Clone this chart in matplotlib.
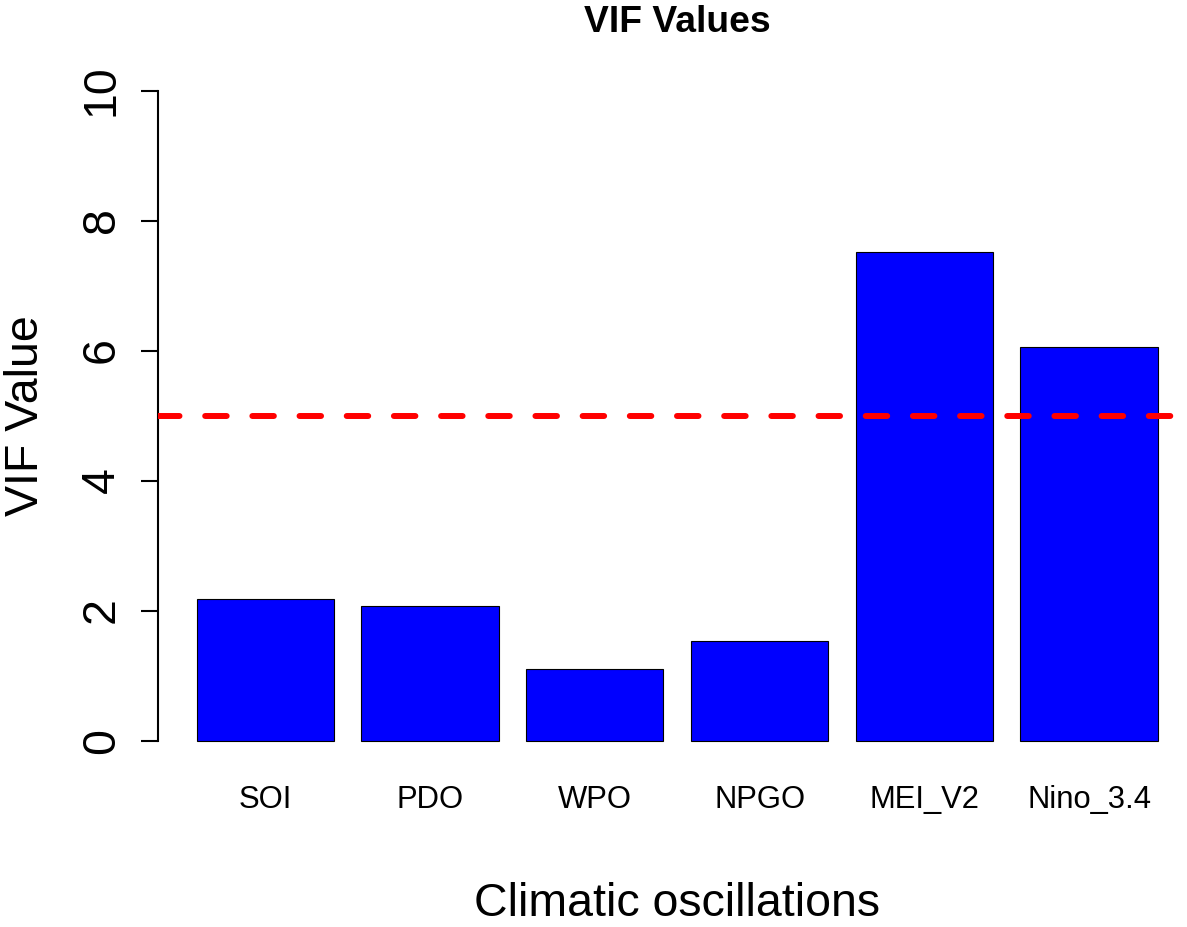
import matplotlib
matplotlib.use("Agg")
import matplotlib.pyplot as plt

categories = ["SOI", "PDO", "WPO", "NPGO", "MEI_V2", "Nino_3.4"]
vif_values = [2.17, 2.07, 1.10, 1.53, 7.52, 6.06]
threshold = 5.0
y_ticks = [0, 2, 4, 6, 8, 10]

plt.rcParams['font.family'] = ['Liberation Sans', 'DejaVu Sans']

W, H = 1187, 927
DPI = 100
fig = plt.figure(figsize=(W / DPI, H / DPI), dpi=DPI)
fig.patch.set_facecolor('white')

# plot region in pixels (R-like)
left_px, right_px = 158.2, 1196.2
top_px, bot_px = 64.5, 766.5
ax = fig.add_axes([left_px / W, 1 - bot_px / H, (right_px - left_px) / W, (bot_px - top_px) / H])
ax.set_facecolor('none')

width = 1.0
space = 0.2
positions = [space + i * (width + space) + width / 2 for i in range(len(categories))]
ax.bar(positions, vif_values, width=width, color='#0000FF', edgecolor='black', linewidth=0.8, zorder=2)

ax.axhline(threshold, color='#FF0000', linewidth=4.3, dashes=(3.6, 4.3), dash_capstyle='round', zorder=3)

ax.set_xlim(-0.08, 7.48)
ax.set_ylim(-0.4, 10.4)

for s in ['top', 'right', 'bottom']:
    ax.spines[s].set_visible(False)
ax.spines['left'].set_bounds(0, 10)
ax.spines['left'].set_linewidth(1.5)

ax.set_yticks(y_ticks)
ax.set_yticklabels([str(t) for t in y_ticks])
ax.tick_params(axis='y', length=12.5, width=1.5, pad=19.5, labelsize=33.5)
for lab in ax.get_yticklabels():
    lab.set_rotation(90)
    lab.set_rotation_mode('anchor')
    lab.set_ha('center')
    lab.set_va('baseline')

ax.set_xticks(positions)
ax.set_xticklabels(categories)
ax.tick_params(axis='x', length=0, pad=30, labelsize=22.3)
for lab in ax.get_xticklabels():
    lab.set_va('baseline')

cx = (left_px + right_px) / 2 / W
fig.text(cx, 1 - 31.5 / H, "VIF Values", fontsize=26.8, fontweight='bold', ha='center', va='baseline')
fig.text(cx, 1 - 916 / H, "Climatic oscillations", fontsize=33.5, ha='center', va='baseline')
fig.text(38 / W, 1 - 415.5 / H, "VIF Value", fontsize=33.5, rotation=90, rotation_mode='anchor',
         ha='center', va='baseline')

fig.savefig("out.png", dpi=DPI, facecolor='white')
